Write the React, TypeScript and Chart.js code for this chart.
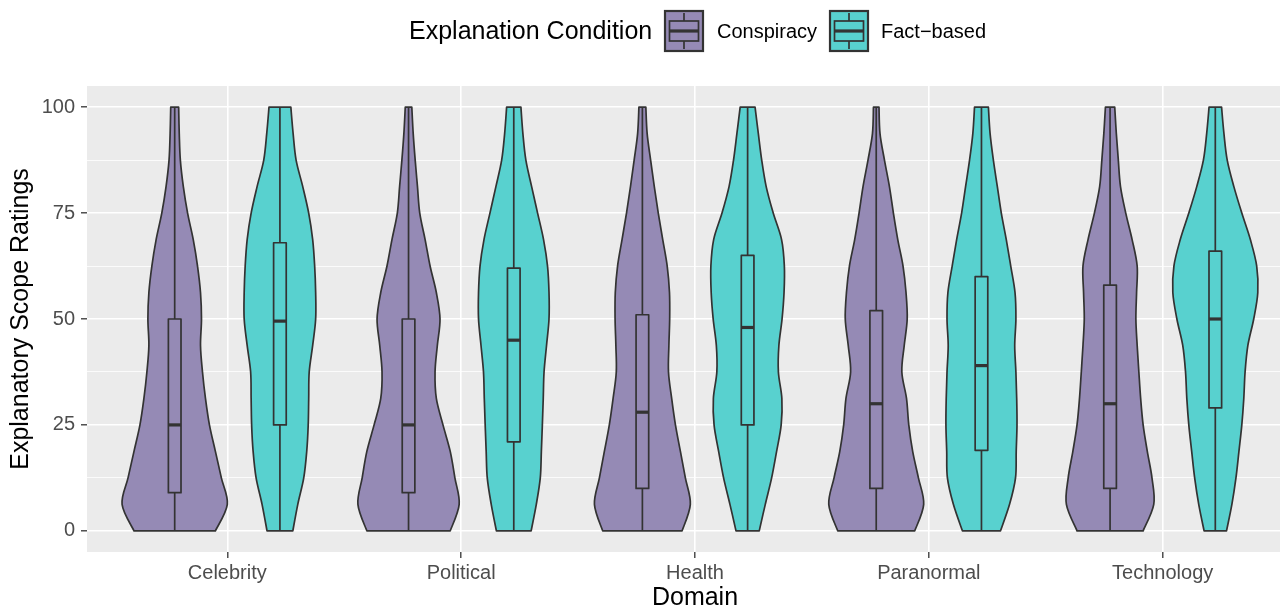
import React, { useEffect, useRef } from 'react';
import { Chart, registerables } from 'chart.js';

Chart.register(...registerables);

// ---------- data ----------
const domains = ['Celebrity', 'Political', 'Health', 'Paranormal', 'Technology'];
const conditions = ['Conspiracy', 'Fact\u2212based'];
const yTickValues = [0, 25, 50, 75, 100];

// rating levels at which the violin densities are read (bottom -> top)
const densityLevels = [0, 6.25, 12.5, 18.75, 25, 31.25, 37.5, 43.75, 50, 56.25, 62.5, 68.75, 75, 81.25, 87.5, 93.75, 100];

// relative kernel density (arbitrary units, same scale for all violins)
const conspiracyDensity = [
  [41, 53, 47, 41, 35, 31, 28, 26, 27, 26, 23, 18.7, 13, 8.7, 5.7, 4.6, 4],
  [42, 51, 46.7, 42, 34.7, 28, 26.7, 29, 31.7, 28, 21.7, 16.7, 11.3, 9, 6.7, 4.7, 3.3],
  [40, 48.3, 43.3, 38.3, 33.3, 29.5, 26.3, 26.7, 27.5, 27.3, 25, 20.5, 16, 12, 8.3, 4.8, 3.5],
  [38.8, 47.8, 42.5, 36.7, 32.8, 30.5, 25.8, 28.2, 31.2, 30, 27, 21.7, 17.3, 13.3, 8.3, 3.8, 2.8],
  [33.3, 44, 42.2, 37.5, 33.3, 30.8, 29, 27.3, 26, 26.7, 27.3, 22.2, 15.8, 10.5, 8.3, 6.3, 4.7],
];
const factDensity = [
  [13, 18, 24, 27, 28.5, 29, 29.5, 33, 36, 36, 35, 33, 29, 23, 16.3, 13.3, 11],
  [17.5, 22.7, 26.7, 27.8, 28.8, 29.7, 30.5, 33, 35.5, 35.5, 34, 30, 24, 18, 12.2, 9.2, 7.2],
  [11.7, 17.8, 24.2, 29.2, 33.8, 34.5, 31, 31.5, 34.7, 36.7, 37, 34.2, 25.8, 18.7, 14.2, 10.8, 7.5],
  [19.2, 28.3, 34.3, 35, 35.8, 35.5, 34.7, 33.5, 34.7, 33.8, 29.5, 25, 20, 16, 12, 8.7, 7],
  [11.3, 16.7, 20.8, 23.8, 26.7, 28.7, 30, 32.8, 38.7, 42.8, 41.7, 35.3, 26.7, 18.7, 12, 8.7, 6.3],
];

// boxplot statistics per domain
const conspiracyMin = [0, 0, 0, 0, 0];
const conspiracyQ1 = [9, 9, 10, 10, 10];
const conspiracyMedian = [25, 25, 28, 30, 30];
const conspiracyQ3 = [50, 50, 51, 52, 58];
const conspiracyMax = [100, 100, 100, 100, 100];

const factMin = [0, 0, 0, 0, 0];
const factQ1 = [25, 21, 25, 19, 29];
const factMedian = [49.5, 45, 48, 39, 50];
const factQ3 = [68, 62, 65, 60, 66];
const factMax = [100, 100, 100, 100, 100];

// ---------- styles ----------
const FONT = '"Liberation Sans", Arial, Helvetica, sans-serif';
const fillColors = ['#958AB5', '#58D1CF'];
const OUTLINE = '#333333';
const PANEL_BG = '#EBEBEB';
const DODGE = 0.225;          // half of dodge width 0.9
const VIOLIN_HALF = 0.225;    // max half-width in category units
const BOX_HALF = 0.027;
const LINE_W = 1.7;

const groups = [
  { density: conspiracyDensity, min: conspiracyMin, q1: conspiracyQ1, med: conspiracyMedian, q3: conspiracyQ3, max: conspiracyMax },
  { density: factDensity, min: factMin, q1: factQ1, med: factMedian, q3: factQ3, max: factMax },
];

function splineTo(ctx: CanvasRenderingContext2D, pts: { x: number; y: number }[]) {
  for (let i = 0; i < pts.length - 1; i++) {
    const p0 = pts[i - 1] || pts[i];
    const p1 = pts[i];
    const p2 = pts[i + 1];
    const p3 = pts[i + 2] || pts[i + 1];
    const c1x = p1.x + (p2.x - p0.x) / 6;
    const c1y = p1.y + (p2.y - p0.y) / 6;
    const c2x = p2.x - (p3.x - p1.x) / 6;
    const c2y = p2.y - (p3.y - p1.y) / 6;
    ctx.bezierCurveTo(c1x, c1y, c2x, c2y, p2.x, p2.y);
  }
}

const panelPlugin = {
  id: 'panelBg',
  beforeDraw(chart: any) {
    const { ctx, chartArea } = chart;
    ctx.save();
    ctx.fillStyle = PANEL_BG;
    ctx.fillRect(chartArea.left, chartArea.top, chartArea.right - chartArea.left, chartArea.bottom - chartArea.top);
    ctx.restore();
  },
};

const violinPlugin = {
  id: 'violins',
  beforeDatasetsDraw(chart: any) {
    const { ctx, chartArea } = chart;
    const xs = chart.scales.x;
    const ys = chart.scales.y;
    let maxD = 0;
    groups.forEach((g) => g.density.forEach((arr) => arr.forEach((v) => { if (v > maxD) maxD = v; })));
    const k = VIOLIN_HALF / maxD;
    ctx.save();
    ctx.beginPath();
    ctx.rect(chartArea.left, chartArea.top, chartArea.right - chartArea.left, chartArea.bottom - chartArea.top);
    ctx.clip();
    ctx.lineJoin = 'round';
    groups.forEach((g, gi) => {
      domains.forEach((_, di) => {
        const center = di + (gi === 0 ? -DODGE : DODGE);
        const dens = g.density[di];
        const right = densityLevels.map((lv, i) => ({ x: xs.getPixelForValue(center + dens[i] * k), y: ys.getPixelForValue(lv) }));
        const left = densityLevels.map((lv, i) => ({ x: xs.getPixelForValue(center - dens[i] * k), y: ys.getPixelForValue(lv) }));
        const n = right.length;
        ctx.beginPath();
        ctx.moveTo(left[0].x, left[0].y);
        ctx.lineTo(right[0].x, right[0].y);
        splineTo(ctx, right);
        ctx.lineTo(left[n - 1].x, left[n - 1].y);
        splineTo(ctx, left.slice().reverse());
        ctx.closePath();
        ctx.fillStyle = fillColors[gi];
        ctx.fill();
        ctx.strokeStyle = OUTLINE;
        ctx.lineWidth = LINE_W;
        ctx.stroke();

        // boxplot
        const cx = xs.getPixelForValue(center);
        const bl = xs.getPixelForValue(center - BOX_HALF);
        const br = xs.getPixelForValue(center + BOX_HALF);
        const yMin = ys.getPixelForValue(g.min[di]);
        const yQ1 = ys.getPixelForValue(g.q1[di]);
        const yMed = ys.getPixelForValue(g.med[di]);
        const yQ3 = ys.getPixelForValue(g.q3[di]);
        const yMax = ys.getPixelForValue(g.max[di]);
        ctx.lineWidth = LINE_W;
        ctx.beginPath();
        ctx.moveTo(cx, yMin); ctx.lineTo(cx, yQ1);
        ctx.moveTo(cx, yQ3); ctx.lineTo(cx, yMax);
        ctx.stroke();
        ctx.fillStyle = fillColors[gi];
        ctx.fillRect(bl, yQ3, br - bl, yQ1 - yQ3);
        ctx.strokeRect(bl, yQ3, br - bl, yQ1 - yQ3);
        ctx.lineWidth = 3.2;
        ctx.beginPath();
        ctx.moveTo(bl, yMed); ctx.lineTo(br, yMed);
        ctx.stroke();
      });
    });
    ctx.restore();
  },
};

const legendPlugin = {
  id: 'ggLegend',
  afterDraw(chart: any) {
    const { ctx } = chart;
    ctx.save();
    ctx.fillStyle = '#000000';
    ctx.textBaseline = 'alphabetic';
    ctx.textAlign = 'left';
    ctx.font = `25px ${FONT}`;
    ctx.fillText('Explanation Condition', 409, 39);
    const keyX = [665, 830];
    const labelX = [717, 881];
    const top = 11;
    const h = 40;
    const w = 38;
    conditions.forEach((c, i) => {
      const x0 = keyX[i];
      ctx.fillStyle = fillColors[i];
      ctx.fillRect(x0, top, w, h);
      ctx.strokeStyle = OUTLINE;
      ctx.lineWidth = 2.2;
      ctx.strokeRect(x0, top, w, h);
      // inner boxplot glyph
      const bx0 = x0 + 4.5;
      const bx1 = x0 + w - 4.5;
      const by0 = top + h * 0.25;
      const by1 = top + h * 0.75;
      const mid = x0 + w / 2;
      ctx.lineWidth = LINE_W;
      ctx.beginPath();
      ctx.moveTo(mid, top + 2); ctx.lineTo(mid, by0);
      ctx.moveTo(mid, by1); ctx.lineTo(mid, top + h - 2);
      ctx.stroke();
      ctx.strokeRect(bx0, by0, bx1 - bx0, by1 - by0);
      ctx.lineWidth = 3.2;
      ctx.beginPath();
      ctx.moveTo(bx0, top + h / 2); ctx.lineTo(bx1, top + h / 2);
      ctx.stroke();
      ctx.fillStyle = '#000000';
      ctx.font = `20px ${FONT}`;
      ctx.fillText(c, labelX[i], 38);
    });
    ctx.restore();
  },
};

export default function App() {
  const canvasRef = useRef<HTMLCanvasElement | null>(null);

  useEffect(() => {
    document.body.style.margin = '0';
    document.body.style.overflow = 'hidden';
    const canvas = canvasRef.current;
    if (!canvas) return;
    const minorTicks = [0, 12.5, 25, 37.5, 50, 62.5, 75, 87.5, 100];
    const chart = new Chart(canvas, {
      type: 'scatter',
      data: {
        datasets: [
          {
            label: conditions[0],
            data: conspiracyMedian.map((m, i) => ({ x: i - DODGE, y: m })),
            pointRadius: 0,
            pointHoverRadius: 0,
          },
          {
            label: conditions[1],
            data: factMedian.map((m, i) => ({ x: i + DODGE, y: m })),
            pointRadius: 0,
            pointHoverRadius: 0,
          },
        ],
      },
      options: {
        animation: false,
        responsive: false,
        devicePixelRatio: 1,
        events: [],
        layout: { padding: { top: 86, left: 0, right: 0, bottom: 0 } },
        plugins: {
          legend: { display: false },
          tooltip: { enabled: false },
        },
        scales: {
          x: {
            type: 'linear',
            min: -0.6,
            max: 4.6,
            afterFit: (scale: any) => { scale.height = 57; },
            afterBuildTicks: (scale: any) => { scale.ticks = domains.map((_, i) => ({ value: i })); },
            border: { display: false },
            grid: {
              color: '#FFFFFF',
              lineWidth: 1.6,
              tickColor: OUTLINE,
              tickWidth: 1.3,
              tickLength: 6,
            },
            ticks: {
              autoSkip: false,
              maxRotation: 0,
              padding: 3,
              color: '#4D4D4D',
              font: { family: FONT, size: 20 },
              callback: (v: any) => domains[Math.round(Number(v))] ?? '',
            },
            title: {
              display: true,
              text: 'Domain',
              color: '#000000',
              font: { family: FONT, size: 25, lineHeight: 0.85 },
              padding: 0,
            },
          },
          y: {
            type: 'linear',
            min: -5,
            max: 105,
            afterFit: (scale: any) => { scale.width = 87; },
            afterBuildTicks: (scale: any) => { scale.ticks = minorTicks.map((v) => ({ value: v })); },
            border: { display: false },
            grid: {
              color: '#FFFFFF',
              lineWidth: (c: any) => (c.tick && yTickValues.includes(c.tick.value) ? 1.6 : 0.8),
              tickColor: (c: any) => (c.tick && yTickValues.includes(c.tick.value) ? OUTLINE : 'rgba(0,0,0,0)'),
              tickWidth: (c: any) => (c.tick && yTickValues.includes(c.tick.value) ? 1.3 : 0),
              tickLength: 6,
            },
            ticks: {
              padding: 6,
              color: '#4D4D4D',
              font: { family: FONT, size: 20 },
              callback: (v: any) => (yTickValues.includes(Number(v)) ? String(v) : ''),
            },
            title: {
              display: true,
              text: 'Explanatory Scope Ratings',
              color: '#000000',
              font: { family: FONT, size: 25, lineHeight: 1.2 },
              padding: { top: 6, bottom: 0 },
            },
          },
        },
      },
      plugins: [panelPlugin, violinPlugin, legendPlugin],
    } as any);
    return () => chart.destroy();
  }, []);

  return (
    <div style={{ position: 'absolute', left: 0, top: 0, width: 1280, height: 609, overflow: 'hidden' }}>
      <canvas ref={canvasRef} width={1303} height={609} style={{ width: 1303, height: 609, display: 'block' }} />
    </div>
  );
}
